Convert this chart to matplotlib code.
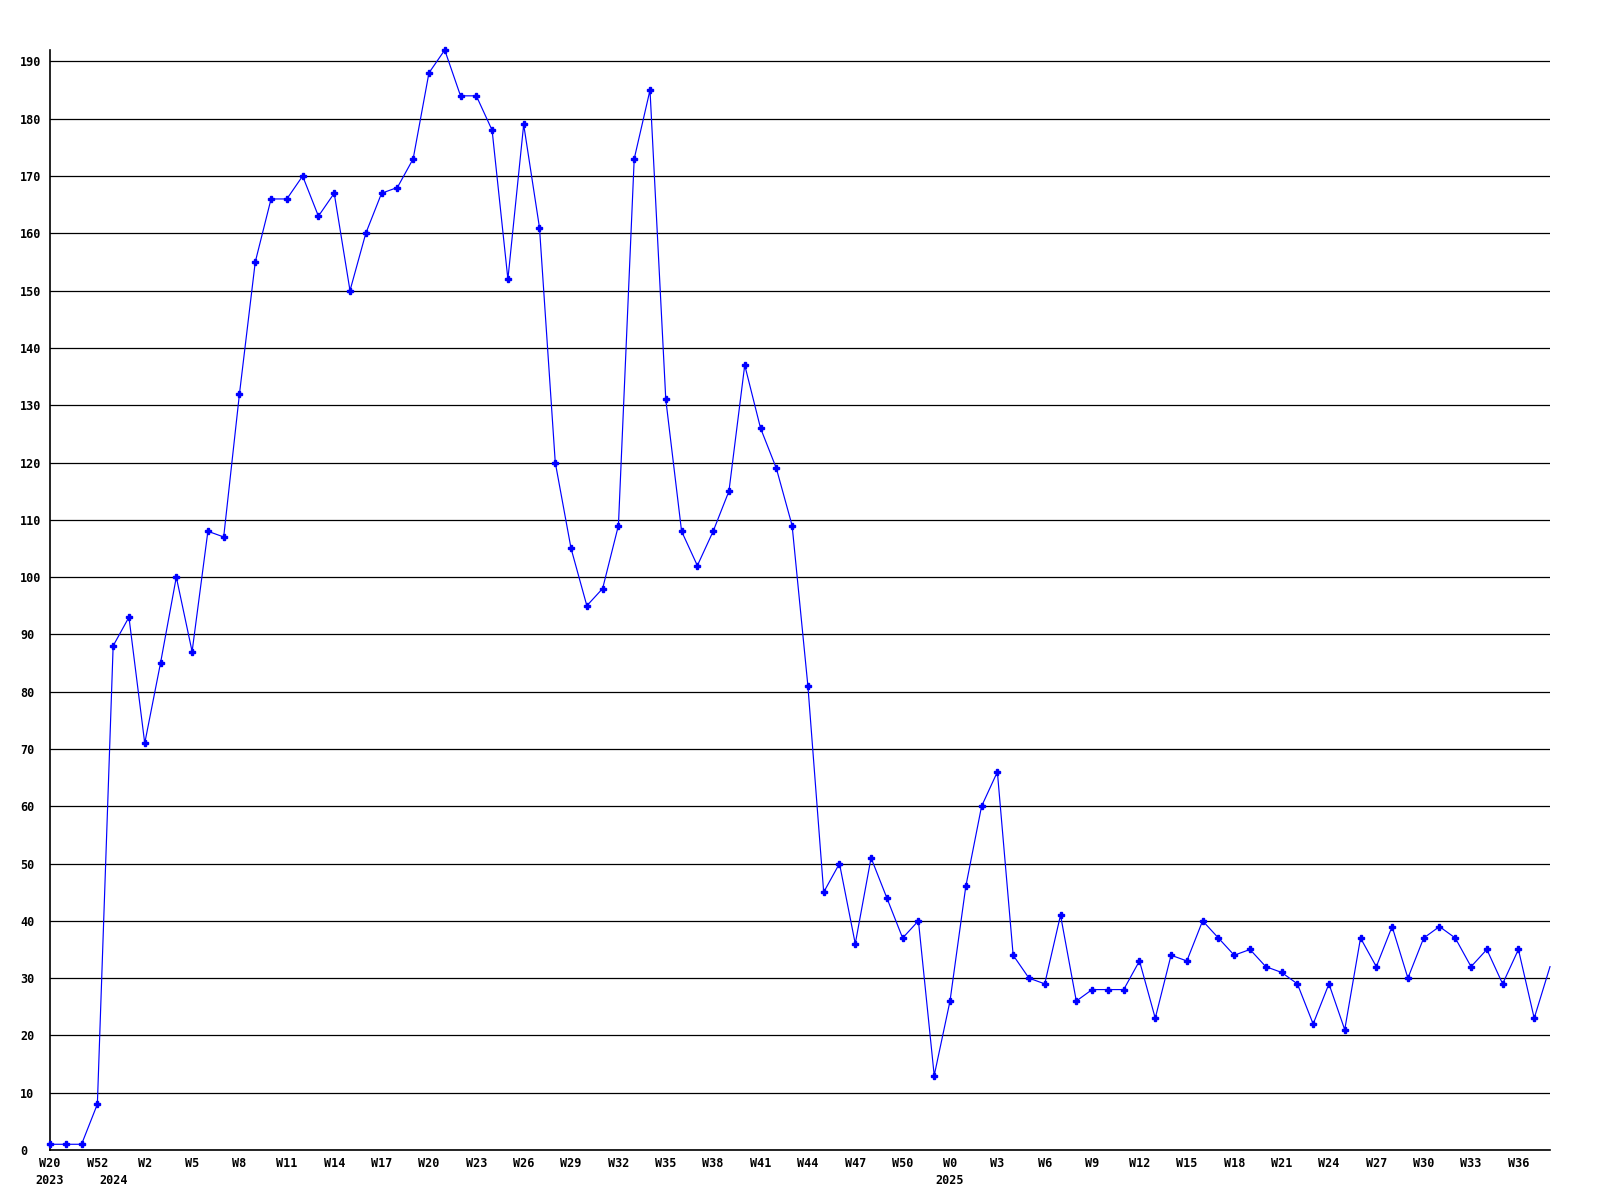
import matplotlib
matplotlib.use("Agg")
import matplotlib.pyplot as plt

values = [1, 1, 1, 8, 88, 93, 71, 85, 100, 87,
          108, 107, 132, 155, 166, 166, 170, 163, 167, 150,
          160, 167, 168, 173, 188, 192, 184, 184, 178, 152,
          179, 161, 120, 105, 95, 98, 109, 173, 185, 131,
          108, 102, 108, 115, 137, 126, 119, 109, 81, 45,
          50, 36, 51, 44, 37, 40, 13, 26, 46, 60,
          66, 34, 30, 29, 41, 26, 28, 28, 28, 33,
          23, 34, 33, 40, 37, 34, 35, 32, 31, 29,
          22, 29, 21, 37, 32, 39, 30, 37, 39, 37,
          32, 35, 29, 35, 23, 32]

tick_labels = ["W20", "W52", "W2", "W5", "W8", "W11", "W14", "W17", "W20", "W23",
               "W26", "W29", "W32", "W35", "W38", "W41", "W44", "W47", "W50", "W0",
               "W3", "W6", "W9", "W12", "W15", "W18", "W21", "W24", "W27", "W30",
               "W33", "W36"]
year_labels = ["2023", "2024", "2025"]
year_index = [0, 4, 57]

y_ticks = list(range(0, 200, 10))

font = dict(family="DejaVu Sans Mono", weight="bold", size=8.5)

fig = plt.figure(figsize=(16, 12), dpi=100)
ax = fig.add_axes([50 / 1600, 1 - 1150 / 1200, 1500 / 1600, 1100 / 1200])

x = list(range(len(values)))
ax.plot(x, values, color="#0000ff", lw=0.85, marker="P", ms=4,
        markevery=list(range(len(values) - 1)), clip_on=False, zorder=3)

ax.set_xlim(0, len(values) - 1)
ax.set_ylim(0, max(values))

for v in y_ticks:
    ax.axhline(v, color="black", lw=0.9, zorder=1)

ax.set_yticks(y_ticks)
ax.set_yticklabels([str(v) for v in y_ticks], fontdict=font)
for lab in ax.get_yticklabels():
    lab.set_horizontalalignment("left")
ax.tick_params(axis="y", length=0, pad=21.5)

xt = list(range(0, 3 * len(tick_labels), 3))
ax.set_xticks(xt)
ax.set_xticklabels(tick_labels, fontdict=font)
ax.tick_params(axis="x", length=0, pad=5)

for lbl, idx in zip(year_labels, year_index):
    ax.annotate(lbl, xy=(idx, 0), xycoords=("data", "axes fraction"),
                xytext=(0, -17), textcoords="offset points",
                ha="center", va="top", **font)

for s in ["top", "right"]:
    ax.spines[s].set_visible(False)
ax.spines["left"].set_linewidth(1.2)
ax.spines["bottom"].set_linewidth(1.2)

fig.savefig("out.png", dpi=100, facecolor="white")
